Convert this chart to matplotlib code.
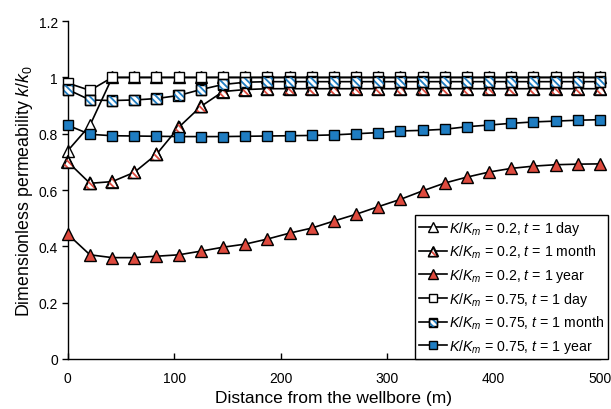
import matplotlib

matplotlib.use("Agg")
import matplotlib.pyplot as plt
from matplotlib.legend_handler import HandlerTuple
from matplotlib.ticker import FuncFormatter

plt.rcParams["font.family"] = ["Liberation Sans", "DejaVu Sans"]
plt.rcParams["mathtext.fontset"] = "custom"
plt.rcParams["mathtext.rm"] = "Liberation Sans"
plt.rcParams["mathtext.it"] = "Liberation Sans:italic"
plt.rcParams["hatch.linewidth"] = 1.3

RED = "#DE4A3E"
BLUE = "#1F7DC2"
HATCH = "\\" * 5

# distance from the wellbore (m)
distance = [0, 20.8, 41.7, 62.5, 83.3, 104.2, 125, 145.8, 166.7, 187.5, 208.3, 229.2, 250,
            270.8, 291.7, 312.5, 333.3, 354.2, 375, 395.8, 416.7, 437.5, 458.3, 479.2, 500]

k02_day = [0.74, 0.83, 1.0, 1.0, 1.0, 1.0, 1.0, 1.0, 1.0, 1.0, 1.0, 1.0, 1.0,
           1.0, 1.0, 1.0, 1.0, 1.0, 1.0, 1.0, 1.0, 1.0, 1.0, 1.0, 1.0]
k02_month = [0.70, 0.624, 0.63, 0.663, 0.727, 0.823, 0.897, 0.95, 0.957, 0.96, 0.96, 0.96, 0.96,
             0.96, 0.96, 0.96, 0.96, 0.96, 0.96, 0.96, 0.96, 0.96, 0.96, 0.96, 0.96]
k02_year = [0.443, 0.37, 0.36, 0.36, 0.365, 0.37, 0.383, 0.397, 0.408, 0.426, 0.447, 0.465, 0.49,
            0.514, 0.541, 0.567, 0.597, 0.625, 0.646, 0.664, 0.677, 0.685, 0.69, 0.692, 0.693]
k075_day = [0.98, 0.954, 1.0, 1.0, 1.0, 1.0, 1.0, 1.0, 1.0, 1.0, 1.0, 1.0, 1.0,
            1.0, 1.0, 1.0, 1.0, 1.0, 1.0, 1.0, 1.0, 1.0, 1.0, 1.0, 1.0]
k075_month = [0.957, 0.92, 0.918, 0.92, 0.925, 0.936, 0.957, 0.975, 0.983, 0.985, 0.985, 0.985, 0.985,
              0.985, 0.985, 0.985, 0.985, 0.985, 0.985, 0.985, 0.985, 0.985, 0.985, 0.985, 0.985]
k075_year = [0.83, 0.798, 0.793, 0.792, 0.791, 0.79, 0.79, 0.79, 0.791, 0.792, 0.793, 0.794, 0.796,
             0.80, 0.804, 0.81, 0.812, 0.816, 0.825, 0.831, 0.837, 0.842, 0.845, 0.848, 0.85]

labels = [
    r"$K/K_m$ = 0.2, $t$ = 1 day",
    r"$K/K_m$ = 0.2, $t$ = 1 month",
    r"$K/K_m$ = 0.2, $t$ = 1 year",
    r"$K/K_m$ = 0.75, $t$ = 1 day",
    r"$K/K_m$ = 0.75, $t$ = 1 month",
    r"$K/K_m$ = 0.75, $t$ = 1 year",
]

# (values, marker, face, hatch colour or None)
series = [
    (k02_day, "^", "white", None),
    (k02_month, "^", "white", RED),
    (k02_year, "^", RED, None),
    (k075_day, "s", "white", None),
    (k075_month, "s", "white", BLUE),
    (k075_year, "s", BLUE, None),
]

fig = plt.figure(figsize=(6.11, 4.10), dpi=100)
ax = fig.add_axes([0.111, 0.122, 0.871, 0.824])

handles = []
for i, (vals, mk, face, hcol) in enumerate(series):
    ms = 9.0 if mk == "^" else 7.6
    z = 2 + i
    line, = ax.plot(distance, vals, color="black", lw=1.2, marker=mk, ms=ms,
                    mfc=face, mec="black", mew=1.0, zorder=z, clip_on=False)
    parts = [line]
    if hcol is not None:
        hs = ax.scatter(distance, vals, s=ms ** 2, marker=mk, facecolor="none",
                        edgecolor=hcol, hatch=HATCH, linewidths=0, zorder=z + 0.1, clip_on=False)
        es = ax.scatter(distance, vals, s=ms ** 2, marker=mk, facecolor="none",
                        edgecolor="black", linewidths=1.0, zorder=z + 0.2, clip_on=False)
        parts += [hs, es]
    handles.append(tuple(parts))

ax.set_xlim(0, 500)
ax.set_ylim(0, 1.2)
ax.set_xticks([0, 100, 200, 300, 400, 500])
ax.set_yticks([0, 0.2, 0.4, 0.6, 0.8, 1.0, 1.2])
ax.yaxis.set_major_formatter(FuncFormatter(lambda v, p: f"{v:g}"))
ax.tick_params(axis="x", direction="in", length=4, width=1, labelsize=10, pad=8.5)
ax.tick_params(axis="y", direction="out", length=4, width=1, labelsize=10, pad=3)
for side in ["top", "right"]:
    ax.spines[side].set_visible(False)
for side in ["left", "bottom"]:
    ax.spines[side].set_linewidth(1.0)

ax.set_xlabel("Distance from the wellbore (m)", fontsize=12.5, labelpad=4)
ax.set_ylabel(r"Dimensionless permeability $k/k_0$", fontsize=12.8, labelpad=3)

leg = ax.legend(handles, labels, handler_map={tuple: HandlerTuple(ndivide=1, pad=0)},
                loc="lower right", bbox_to_anchor=(0.995, 0.122), bbox_transform=fig.transFigure,
                fontsize=10.2, frameon=True, fancybox=False, edgecolor="black", framealpha=1,
                handlelength=2.0, handletextpad=0.15, labelspacing=0.42, borderpad=0.25,
                borderaxespad=0, numpoints=1, scatterpoints=1, markerscale=0.75)
leg.get_frame().set_linewidth(1.0)

fig.savefig("out.png", dpi=100)
